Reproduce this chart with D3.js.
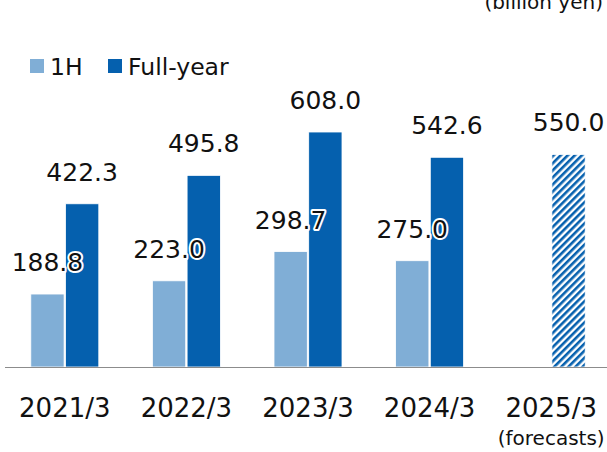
<!DOCTYPE html>
<html>
<head>
<meta charset="utf-8">
<script src="https://cdn.jsdelivr.net/npm/d3@7"></script>
<style>
  body { margin: 0; background: #fff; }
  text { font-family: "DejaVu Sans", Verdana, sans-serif; fill: #111; }
</style>
</head>
<body>
<svg id="chart"></svg>
<script>
var years = ["2021/3", "2022/3", "2023/3", "2024/3", "2025/3"];
var series = ["1H", "Full-year"];
var firstHalf = [188.8, 223.0, 298.7, 275.0, null];
var fullYear = [422.3, 495.8, 608.0, 542.6, 550.0];
var forecast = [false, false, false, false, true];

var width = 607;
var height = 452;
var colors = {"1H": "#80aed6", "Full-year": "#0560ae"};

var svg = d3.select("#chart")
            .attr("width", width)
            .attr("height", height);

// hatch for the forecast bar
var defs = svg.append("defs");
defs.append("pattern")
    .attr("id", "hatch")
    .attr("patternUnits", "userSpaceOnUse")
    .attr("width", 5)
    .attr("height", 5)
    .attr("patternTransform", "rotate(45)")
    .append("rect")
    .attr("x", 0)
    .attr("y", 0)
    .attr("width", 2.6)
    .attr("height", 5)
    .attr("fill", colors["Full-year"]);

var x0 = d3.scaleBand().domain(years).range([4, 612]);
var x1 = d3.scaleBand().domain(series).range([-34, 34]).paddingInner(0.04);
var y = d3.scaleLinear().domain([0, 700]).range([367, 367 - 700 * 0.3865]);

var rows = [];
years.forEach(function(yr, i) {
  if (firstHalf[i] != null) rows.push({year: yr, key: "1H", value: firstHalf[i], fc: false});
  rows.push({year: yr, key: "Full-year", value: fullYear[i], fc: forecast[i]});
});

function barX(d) {
  return x0(d.year) + x0.bandwidth() / 2 + x1(d.key);
}

svg.selectAll("rect.bar")
   .data(rows)
   .enter()
   .append("rect")
   .attr("class", "bar")
   .attr("x", barX)
   .attr("y", function(d) { return y(d.value); })
   .attr("width", x1.bandwidth())
   .attr("height", function(d) { return y(0) - y(d.value); })
   .attr("fill", function(d) { return d.fc ? "url(#hatch)" : colors[d.key]; })
   .attr("stroke", "#fff")
   .attr("stroke-width", 0.8);

// baseline
svg.append("line")
   .attr("x1", 5)
   .attr("x2", width)
   .attr("y1", y(0) + 0.5)
   .attr("y2", y(0) + 0.5)
   .attr("stroke", "#8c8c8c")
   .attr("stroke-width", 1.2);

// value labels with white halo
svg.selectAll("text.val")
   .data(rows)
   .enter()
   .append("text")
   .attr("class", "val")
   .attr("x", function(d) { return barX(d) + x1.bandwidth() / 2; })
   .attr("y", function(d) { return y(d.value) - 23; })
   .attr("text-anchor", "middle")
   .style("font-size", "25px")
   .style("paint-order", "stroke")
   .attr("stroke", "#fff")
   .attr("stroke-width", 4)
   .attr("stroke-linejoin", "round")
   .text(function(d) { return d.value.toFixed(1); });

// x axis labels
var xAxis = d3.axisBottom(x0).tickSize(0).tickPadding(0);
var gx = svg.append("g")
   .attr("transform", "translate(0,396)")
   .call(xAxis);
gx.select(".domain").remove();
gx.selectAll("text")
  .attr("y", 0)
  .attr("dy", "0.8em")
  .style("font-size", "26px")
  .style("font-family", "'DejaVu Sans', Verdana, sans-serif")
  .attr("fill", "#111");

svg.append("text")
   .attr("x", x0("2025/3") + x0.bandwidth() / 2)
   .attr("y", 445)
   .attr("text-anchor", "middle")
   .style("font-size", "20px")
   .text("(forecasts)");

svg.append("text")
   .attr("x", 603)
   .attr("y", 9)
   .attr("text-anchor", "end")
   .style("font-size", "20px")
   .text("(billion yen)");

// legend
var legendX = [30, 108];
var legend = svg.selectAll("g.legend")
   .data(series)
   .enter()
   .append("g")
   .attr("class", "legend")
   .attr("transform", function(d, i) { return "translate(" + legendX[i] + ",59)"; });
legend.append("rect")
   .attr("width", 14)
   .attr("height", 14)
   .attr("fill", function(d) { return colors[d]; });
legend.append("text")
   .attr("x", 20)
   .attr("y", 16)
   .style("font-size", "23.5px")
   .text(function(d) { return d; });
</script>
</body>
</html>
